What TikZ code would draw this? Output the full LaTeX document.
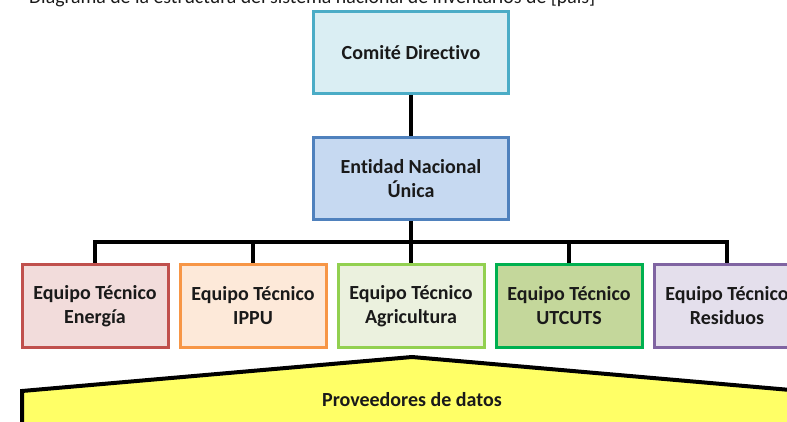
\documentclass[tikz,border=0pt]{standalone}
\usepackage{fontspec}
\setmainfont[Ligatures=NoCommon]{Carlito}
\usetikzlibrary{positioning}
\definecolor{comiteborde}{HTML}{4BACC6}
\definecolor{comitefondo}{HTML}{DAEEF3}
\definecolor{entidadborde}{HTML}{4F81BD}
\definecolor{entidadfondo}{HTML}{C6D9F1}
\definecolor{energiaborde}{HTML}{C0504D}
\definecolor{energiafondo}{HTML}{F2DCDB}
\definecolor{ippuborde}{HTML}{F79646}
\definecolor{ippufondo}{HTML}{FDE9D9}
\definecolor{agriborde}{HTML}{92D050}
\definecolor{agrifondo}{HTML}{EBF1DE}
\definecolor{utcutsborde}{HTML}{00B050}
\definecolor{utcutsfondo}{HTML}{C4D79B}
\definecolor{residuosborde}{HTML}{8064A2}
\definecolor{residuosfondo}{HTML}{E4DFEC}
\definecolor{proveedoresfondo}{HTML}{FFFF66}
\definecolor{texto}{HTML}{1A1A1A}
\tikzset{
    %Define style for the upper boxes
    caja/.style={
           rectangle,
           line width=1.5pt,
           minimum width=97.5pt,
           minimum height=41pt,
           text=texto,
           font=\bfseries,
           align=center},
    %Define style for the team boxes
    equipo/.style={
           caja,
           minimum width=73pt,
           minimum height=41.5pt},
    % Define line style
    linea/.style={
           line width=1.8pt,
           black}
}

\begin{document}
\begin{tikzpicture}[x=0.5pt, y=-0.5pt, node distance=20.5pt, auto,
    font=\fontsize{9.1pt}{11.3pt}\selectfont]
		\useasboundingbox (0,0) rectangle (787,422);
		\node[anchor=base west, text=texto, font=\fontsize{9.9pt}{12pt}\selectfont] (titulo) at (22,4) {Diagrama de la estructura del sistema nacional de inventarios de [país]};
		\node[caja, draw=comiteborde, fill=comitefondo] (comite) at (411,52.5) {Comité Directivo};
		\node[caja, draw=entidadborde, fill=entidadfondo, below=of comite] (entidad) {Entidad Nacional\\Única};
		\node[equipo, draw=agriborde, fill=agrifondo, below=21pt of entidad] (agricultura) {Equipo Técnico\\Agricultura};
		\node[equipo, draw=ippuborde, fill=ippufondo, left=4.5pt of agricultura] (ippu) {Equipo Técnico\\IPPU};
		\node[equipo, draw=energiaborde, fill=energiafondo, left=4.5pt of ippu] (energia) {Equipo Técnico\\Energía};
		\node[equipo, draw=utcutsborde, fill=utcutsfondo, right=4.5pt of agricultura] (utcuts) {Equipo Técnico\\UTCUTS};
		\node[equipo, draw=residuosborde, fill=residuosfondo, right=4.5pt of utcuts] (residuos) {Equipo Técnico\\Residuos};
		\coordinate (bus) at (411,242);
		\draw[linea] (comite.south) -- (entidad.north);
		\draw[linea] (entidad.south) -- (agricultura.north);
		\draw[linea] (energia.north) |- (bus) -| (residuos.north);
		\draw[linea] (ippu.north) -- (ippu.north |- bus);
		\draw[linea] (utcuts.north) -- (utcuts.north |- bus);
		% data providers
		\draw[line width=2pt, fill=proveedoresfondo] (22,440) -- (22,391) -- (412,357) -- (802,391) -- (802,440) -- cycle;
		\node[text=texto, font=\bfseries] (proveedores) at (412,400) {Proveedores de datos};
	\end{tikzpicture}
\end{document}
